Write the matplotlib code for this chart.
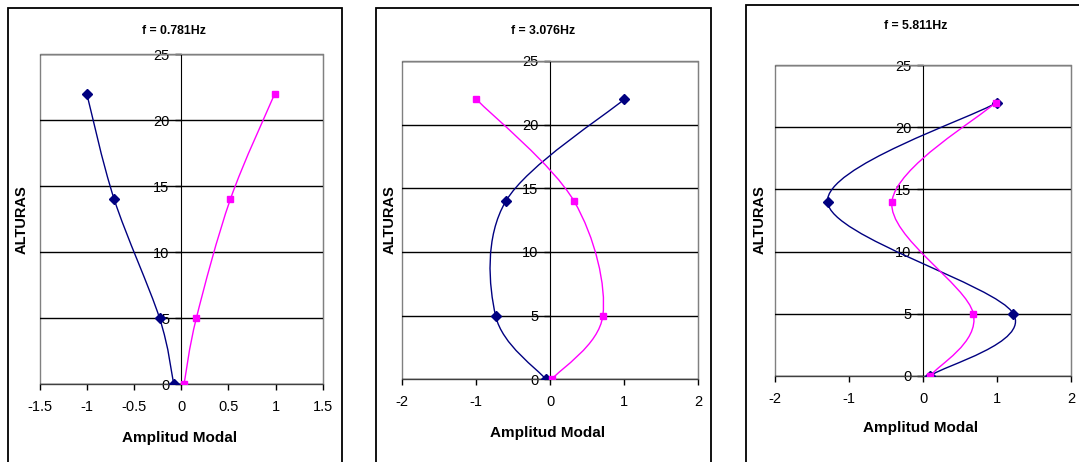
import numpy as np
import matplotlib
matplotlib.use("Agg")
from matplotlib import pyplot as plt
from matplotlib.path import Path
from matplotlib.patches import PathPatch, Rectangle
from matplotlib.ticker import FormatStrFormatter

plt.rcParams["font.family"] = ["Liberation Sans", "DejaVu Sans"]
plt.rcParams["axes.unicode_minus"] = False

HEIGHTS = [0, 5, 14, 22]

TITLES = ["f = 0.781Hz", "f = 3.076Hz", "f = 5.811Hz"]

# mode shapes, one pair of series per panel (amplitude at each height)
BLUE_1 = [-0.08, -0.23, -0.71, -1.0]
PINK_1 = [0.03, 0.16, 0.52, 0.99]
BLUE_2 = [-0.06, -0.74, -0.6, 1.0]
PINK_2 = [0.02, 0.71, 0.32, -1.0]
BLUE_3 = [0.1, 1.22, -1.29, 1.0]
PINK_3 = [0.1, 0.68, -0.42, 0.98]

XTICKS_1 = [-1.5, -1, -0.5, 0, 0.5, 1, 1.5]
XTICKS_23 = [-2, -1, 0, 1, 2]
YTICKS = [0, 5, 10, 15, 20, 25]

W, H = 1079, 462


def fx(px):
    return px / W


def fy(py):
    return 1 - py / H


def smooth_path(xs, ys):
    # Excel-style smoothed line (Catmull-Rom as cubic Bezier)
    p = np.column_stack([xs, ys]).astype(float)
    pts = np.vstack([p[0], p, p[-1]])
    verts = [p[0]]
    codes = [Path.MOVETO]
    for i in range(1, len(pts) - 2):
        c1 = pts[i] + (pts[i + 1] - pts[i - 1]) / 6
        c2 = pts[i + 1] - (pts[i + 2] - pts[i]) / 6
        verts += [c1, c2, pts[i + 1]]
        codes += [Path.CURVE4] * 3
    return Path(verts, codes)


def panel(fig, rect, blue, pink, xticks):
    ax = fig.add_axes(rect)
    for vals, color, marker, ms in [(blue, "#000080", "D", 4.8), (pink, "#FF00FF", "s", 4.7)]:
        ax.add_patch(PathPatch(smooth_path(vals, HEIGHTS), fill=False,
                               edgecolor=color, lw=1.0, zorder=3))
        ax.plot(vals, HEIGHTS, linestyle="none", marker=marker, ms=ms,
                color=color, zorder=4)
    ax.set_xlim(xticks[0], xticks[-1])
    ax.set_ylim(0, 25)
    ax.set_xticks(xticks)
    ax.set_yticks(YTICKS)
    ax.xaxis.set_major_formatter(FormatStrFormatter("%g"))
    ax.spines["left"].set_position(("data", 0))
    ax.spines["left"].set_color("black")
    ax.spines["left"].set_zorder(2)
    ax.spines["bottom"].set_color("#404040")
    for s in ["top", "right"]:
        ax.spines[s].set_color("#808080")
    ax.patch.set_edgecolor("#808080")
    ax.patch.set_linewidth(1.0)
    ax.grid(axis="y", color="black", lw=1.0)
    ax.set_axisbelow(True)
    ax.tick_params(labelsize=10.5, length=4, width=1)
    ax.tick_params(axis="x", pad=7.5)
    ax.tick_params(axis="y", pad=4.5)
    return ax


fig = plt.figure(figsize=(W / 100, H / 100), dpi=100)

rects = [
    [fx(39.5), fy(384), fx(323 - 39.5), 330 / H],
    [fx(402.3), fy(379.3), fx(698.3 - 402.3), 318.3 / H],
    [fx(775), fy(375.7), fx(1071 - 775), 310.4 / H],
]
series = [(BLUE_1, PINK_1, XTICKS_1), (BLUE_2, PINK_2, XTICKS_23), (BLUE_3, PINK_3, XTICKS_23)]
title_pos = [(174, 31), (543, 31), (916, 26)]
xlabel_pos = [(179.5, 438), (548, 433), (921, 428)]
ylabel_pos = [(22, 220), (390, 220), (760, 220)]
frames = [(8, 8, 342), (376, 8, 711), (746, 5, 1090)]

for i in range(3):
    blue, pink, xt = series[i]
    panel(fig, rects[i], blue, pink, xt)
    fig.text(fx(title_pos[i][0]), fy(title_pos[i][1]), TITLES[i], ha="center",
             va="center", fontsize=8.8, fontweight="bold")
    fig.text(fx(xlabel_pos[i][0]), fy(xlabel_pos[i][1]), "Amplitud Modal",
             ha="center", va="center", fontsize=11, fontweight="bold")
    fig.text(fx(ylabel_pos[i][0]), fy(ylabel_pos[i][1]), "ALTURAS", ha="center",
             va="center", rotation=90, fontsize=10.5, fontweight="bold")
    l, t, r = frames[i]
    fig.add_artist(Rectangle((fx(l), -0.1), fx(r - l), fy(t) + 0.1,
                             transform=fig.transFigure, fill=False,
                             edgecolor="black", lw=1.3))

fig.savefig("out.png", dpi=100)
